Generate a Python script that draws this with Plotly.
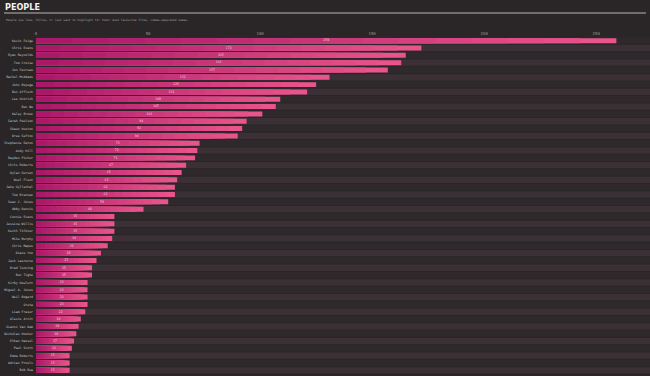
import plotly.graph_objects as go

names = ["Kevin Feige", "Chris Evans", "Ryan Reynolds", "Tom Cruise", "Jon Favreau",
         "Rachel McAdams", "John Boyega", "Ben Affleck", "Lee Unkrich", "Ben Wu",
         "Kaley Brown", "Sarah Paulson", "Shawn Huston", "Drew Sefton", "Stephanie Eaton",
         "Andy Hill", "Rayden Picker", "Chris Roberts", "Dylan Gurson", "Noel Fleet",
         "Jake Gyllenhal", "Tom Brennan", "Sean C. Jones", "Abby Dennis", "Connie Evans",
         "Jessica Willis", "Keith Tolkner", "Mike Murphy", "Chris Mapes", "Diane Yoo",
         "Jack Lawrence", "Brad Tenning", "Ben Tighe", "Kirby Hewlett", "Miguel A. Jones",
         "Neil Bogard", "Greta", "Liam Fraser", "Alexis Arnit", "Gianni Van Dam",
         "Nicholas Hooker", "Ethan Hassel", "Paul Scott", "Emma Roberts", "Adrian Proulx",
         "Bob Rea"]
values = [259, 172, 165, 163, 157, 131, 125, 121, 109, 107,
          101, 94, 92, 90, 73, 72, 71, 67, 65, 63,
          62, 62, 59, 48, 35, 35, 35, 34, 32, 29,
          27, 25, 25, 23, 23, 23, 23, 22, 20, 19,
          18, 17, 16, 15, 15, 15]
tick_vals = [0, 50, 100, 150, 200, 250]

XMAX = 274
N = 16
c0 = (168, 22, 104)
c1 = (236, 86, 141)

fig = go.Figure()

# row tracks
track_colors = ["#2f292c" if i % 2 == 0 else "#3b3035" for i in range(len(names))]
fig.add_trace(go.Bar(y=names, x=[XMAX] * len(names), orientation="h",
                     marker=dict(color=track_colors, line=dict(width=0)),
                     width=0.86, hoverinfo="skip", showlegend=False))

# gradient bars: overlaid, from full length (pink) down to shortest (magenta)
for k in range(N):
    frac = (N - k) / N
    t = (N - k - 0.5) / N
    col = "rgb(%d,%d,%d)" % tuple(round(a + (b - a) * t) for a, b in zip(c0, c1))
    fig.add_trace(go.Bar(y=names, x=[v * frac for v in values], orientation="h",
                         marker=dict(color=col, line=dict(width=0)),
                         width=0.68, hoverinfo="skip", showlegend=False))

fig.add_trace(go.Scatter(y=names, x=[v / 2 for v in values], mode="text",
                         text=[str(v) for v in values],
                         textfont=dict(size=3.3, color="#f0d0de", family="DejaVu Sans Mono"),
                         hoverinfo="skip", showlegend=False))

fig.update_layout(
    width=650, height=376,
    paper_bgcolor="#2a2627", plot_bgcolor="#2a2627",
    barmode="overlay",
    margin=dict(l=36, r=0, t=37, b=2, autoexpand=False),
    xaxis=dict(range=[0, XMAX], side="top", tickvals=tick_vals, automargin=False,
               tickfont=dict(size=4, color="#9a9a9a", family="DejaVu Sans Mono"),
               showgrid=False, zeroline=False, showline=False, ticks=""),
    yaxis=dict(range=[len(names) - 0.5, -0.5], automargin=False,
               tickfont=dict(size=3.2, color="#c8c8c8", family="DejaVu Sans Mono"),
               showgrid=False, zeroline=False, showline=False, ticks="", ticklabelstandoff=2),
    font=dict(family="DejaVu Sans Mono"),
)

fig.add_annotation(xref="paper", yref="paper", x=-33 / 614, y=1 + 30 / 337, xanchor="left", yanchor="middle",
                   text="<b>PEOPLE</b>", showarrow=False,
                   font=dict(size=9, color="#f2f2f2", family="DejaVu Sans Condensed"))
fig.add_annotation(xref="paper", yref="paper", x=-32 / 614, y=1 + 17 / 337, xanchor="left", yanchor="middle",
                   text="People you love, follow, or just want to highlight for their most favourite films, comma-separated names.",
                   showarrow=False, font=dict(size=2.9, color="#a8a8a8", family="DejaVu Sans Mono"))
fig.add_shape(type="line", xref="paper", yref="paper", x0=-32 / 614, x1=1 - 4 / 614,
              y0=1 + 24 / 337, y1=1 + 24 / 337, line=dict(color="#b5b5b5", width=1))

fig.write_html("out.html", config={"displayModeBar": False},
               post_script="document.body.style.margin='0';document.body.style.background='#2a2627';")
